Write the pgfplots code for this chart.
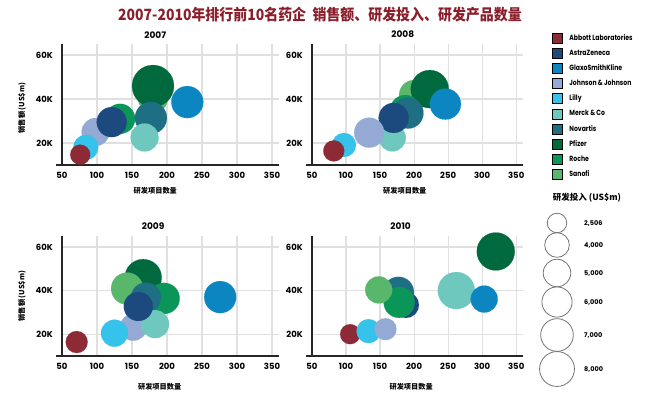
\documentclass[border=0pt]{standalone}
\usepackage{pgfplots}
\pgfplotsset{compat=1.18}
\usepackage{pgfplotstable}
\usepackage{fontspec}
\setmainfont{Poppins}
\newfontfamily\cjk{Noto Sans CJK SC}
\newfontfamily\cjktitle[FakeStretch=0.9]{Noto Sans CJK SC}
\newfontfamily\cond[FakeStretch=0.82]{Poppins}

\definecolor{abbott}{HTML}{8E2A35}
\definecolor{az}{HTML}{1C4A7E}
\definecolor{gsk}{HTML}{0C86C0}
\definecolor{jj}{HTML}{94AAD4}
\definecolor{lilly}{HTML}{35C3EC}
\definecolor{merck}{HTML}{6FC8BE}
\definecolor{novartis}{HTML}{1F6F84}
\definecolor{pfizer}{HTML}{006A3E}
\definecolor{roche}{HTML}{0B9659}
\definecolor{sanofi}{HTML}{58B76A}
\definecolor{titlered}{HTML}{8A1F2B}

% x = number of R&D projects, y = sales (US$m), rd = R&D spend (US$m)
\pgfplotstableread{
x y rd c
180 40500 4130 sanofi
180 45900 8100 pfizer
229 38600 4700 gsk
133 31000 4130 roche
98 25000 3600 jj
177 31400 4700 novartis
168 22500 3600 merck
121 29500 4130 az
84 18000 2870 lilly
76 14700 1840 abbott
}\dataA
\pgfplotstableread{
x y rd c
200 41800 4130 sanofi
223 44500 6630 pfizer
246 37700 4410 gsk
187 35000 4130 roche
191 33600 4410 novartis
168 22300 3350 merck
170 31400 4130 az
134 24700 4130 jj
97 19100 2640 lilly
82 16400 2030 abbott
}\dataB
\pgfplotstableread{
x y rd c
166 45900 6290 pfizer
143 40900 4700 sanofi
196 36400 4410 roche
170 36800 4130 novartis
152 23200 3350 jj
183 24600 3600 merck
159 32700 3860 az
125 20450 3350 lilly
71 16400 2220 abbott
276 37000 4700 gsk
}\dataC
\pgfplotstableread{
x y rd c
320 57900 6630 pfizer
262 40000 6290 merck
303 36100 3350 gsk
188 33400 3100 az
177 39200 4410 novartis
178 34600 4410 roche
148 40300 3350 sanofi
106 20000 1840 abbott
133 21400 2640 lilly
158 22300 2220 jj
}\dataD
% size key: vertical position (pt), R&D value, label
\pgfplotstableread{
x y rd c lab
0 173 2506 s 2,506
0 151 4000 s 4,000
0 123 5000 s 5,000
0 94 6000 s 6,000
0 61 7000 s 7,000
0 27 8000 s 8,000
}\dataS

\pgfplotsset{
  panel/.style={
    scale only axis, height=121pt,
    xmin=50, xmax=360, ymin=10000, ymax=65000,
    axis lines=left,
    axis line style={-, draw=black!85, line width=1.3pt},
    x axis line style={shorten <=-6pt},
    xtick={50,100,...,350}, ytick={20000,40000,60000},
    yticklabels={20K,40K,60K}, scaled y ticks=false,
    major tick length=0pt,
    grid=major, major grid style={draw=black!12, line width=1.2pt},
    tick label style={font=\bfseries\fontsize{8.5}{9}\selectfont},
    /pgf/number format/assume math mode=true,
    xticklabel style={inner sep=0pt, anchor=north, yshift=-7pt},
    yticklabel style={inner sep=0pt, anchor=east, xshift=-9pt},
    title style={anchor=center, font=\bfseries\fontsize{9}{10}\selectfont},
    xlabel style={anchor=center, font=\cjk\bfseries\fontsize{7.2}{8}\selectfont},
    ylabel style={anchor=center, font=\cjk\bfseries\fontsize{7.2}{8}\selectfont},
    clip=false,
  },
  bub/.style={scatter, only marks, mark=*, scatter src=explicit symbolic,
    scatter/classes={
      abbott={mark=*, draw=abbott, fill=abbott},
      az={mark=*, draw=az, fill=az},
      gsk={mark=*, draw=gsk, fill=gsk},
      jj={mark=*, draw=jj, fill=jj},
      lilly={mark=*, draw=lilly, fill=lilly},
      merck={mark=*, draw=merck, fill=merck},
      novartis={mark=*, draw=novartis, fill=novartis},
      pfizer={mark=*, draw=pfizer, fill=pfizer},
      roche={mark=*, draw=roche, fill=roche},
      sanofi={mark=*, draw=sanofi, fill=sanofi}},
    mark options={line width=0.1pt},
    visualization depends on={0.2333*sqrt(\thisrow{rd}) \as \msize},
    scatter/@pre marker code/.append style={/tikz/mark size=\msize},
  },
  keybub/.style={scatter, only marks, mark=o, scatter src=explicit symbolic,
    scatter/classes={s={mark=o, draw=black!55}},
    mark options={line width=0.8pt},
    visualization depends on={0.195*sqrt(\thisrow{rd}) \as \keysize},
    scatter/@pre marker code/.append style={/tikz/mark size=\keysize},
  },
}

\begin{document}
\begin{tikzpicture}
\path[use as bounding box] (0pt,0pt) rectangle (650pt,396pt);
\node[font=\cjktitle\bfseries\fontsize{15.5}{16}\selectfont, text=titlered] at (320pt,381pt)
  {2007-2010年排行前10名药企\ \ 销售额、研发投入、研发产品数量};

% 2007
\begin{axis}[panel, width=217pt, at={(62pt,231pt)}, anchor=south west,
  title={2007}, title style={at={(0.43,1)}, yshift=3pt},
  xlabel={研发项目数量}, xlabel style={at={(0.43,0)}, yshift=-26pt},
  ylabel={销售额 (US\$m)}, ylabel style={at={(-0.184,0.47)}}]
\addplot[bub] table[x=x, y=y, meta=c] {\dataA};
\end{axis}

% 2008
\begin{axis}[panel, width=211pt, at={(312pt,231pt)}, anchor=south west,
  title={2008}, title style={at={(0.43,1)}, yshift=4pt},
  xlabel={研发项目数量}, xlabel style={at={(0.44,0)}, yshift=-26pt},
  legend image code/.code={\fill[#1] (0pt,-5pt) rectangle (10pt,5pt);},
  legend cell align=left,
  legend style={at={(1.1374,1.0909)}, anchor=north west, draw=none, fill=none,
    inner sep=0pt, outer sep=0pt, row sep=4.7pt, column sep=7pt,
    nodes={inner sep=0pt},
    font=\cond\bfseries\fontsize{7.5}{8}\selectfont}]
\addlegendimage{fill=abbott}\addlegendentry{Abbott Laboratories}
\addlegendimage{fill=az}\addlegendentry{AstraZeneca}
\addlegendimage{fill=gsk}\addlegendentry{GlaxoSmithKline}
\addlegendimage{fill=jj}\addlegendentry{Johnson \& Johnson}
\addlegendimage{fill=lilly}\addlegendentry{Lilly}
\addlegendimage{fill=merck}\addlegendentry{Merck \& Co}
\addlegendimage{fill=novartis}\addlegendentry{Novartis}
\addlegendimage{fill=pfizer}\addlegendentry{Pfizer}
\addlegendimage{fill=roche}\addlegendentry{Roche}
\addlegendimage{fill=sanofi}\addlegendentry{Sanofi}
\addplot[bub, forget plot] table[x=x, y=y, meta=c] {\dataB};
\end{axis}

% 2009
\begin{axis}[panel, width=217pt, height=120pt, at={(62pt,40pt)}, anchor=south west,
  title={2009}, title style={at={(0.42,1)}, yshift=4pt},
  xlabel={研发项目数量}, xlabel style={at={(0.45,0)}, yshift=-31pt},
  ylabel={销售额 (US\$m)}, ylabel style={at={(-0.184,0.5)}}]
\addplot[bub] table[x=x, y=y, meta=c] {\dataC};
\end{axis}

% 2010
\begin{axis}[panel, width=211pt, height=120pt, at={(312pt,40pt)}, anchor=south west,
  title={2010}, title style={at={(0.42,1)}, yshift=4pt},
  xlabel={研发项目数量}, xlabel style={at={(0.47,0)}, yshift=-31pt}]
\addplot[bub] table[x=x, y=y, meta=c] {\dataD};
\end{axis}

% size legend
\node[font=\cjk\bfseries\fontsize{8.5}{9}\selectfont] at (587pt,198pt) {研发投入 (US\$m)};
\begin{axis}[hide axis, x=1pt, y=1pt, xmin=-20, xmax=20, ymin=0, ymax=396,
  at={(537pt,0pt)}, anchor=south west, clip=false]
\addplot[keybub] table[x=x, y=y, meta=c] {\dataS};
\addplot[only marks, mark=none, point meta=explicit symbolic,
  nodes near coords,
  every node near coord/.style={anchor=west, xshift=27pt, inner sep=0pt,
    font=\bfseries\fontsize{6.5}{7}\selectfont}]
  table[x=x, y=y, meta=lab] {\dataS};
\end{axis}
\end{tikzpicture}
\end{document}
